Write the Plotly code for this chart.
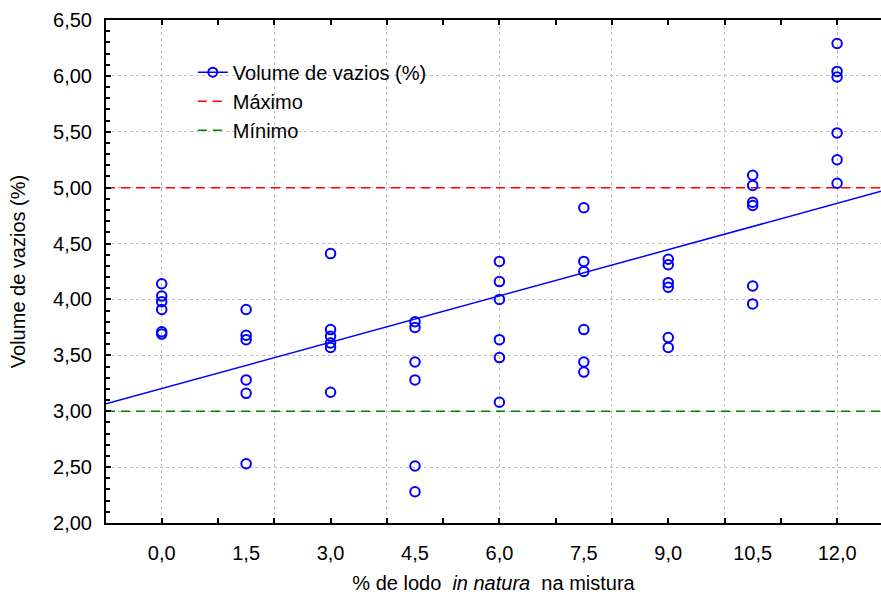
import numpy as np
import plotly.graph_objects as go

# ---- data ----
x_levels = [0.0, 1.5, 3.0, 4.5, 6.0, 7.5, 9.0, 10.5, 12.0]
x_labels = ["0,0", "1,5", "3,0", "4,5", "6,0", "7,5", "9,0", "10,5", "12,0"]
v_00 = [4.14, 4.03, 3.98, 3.91, 3.71, 3.69]
v_15 = [3.91, 3.68, 3.64, 3.28, 3.16, 2.53]
v_30 = [4.41, 3.73, 3.67, 3.61, 3.57, 3.17]
v_45 = [3.80, 3.75, 3.44, 3.28, 2.51, 2.28]
v_60 = [4.34, 4.16, 4.00, 3.64, 3.48, 3.08]
v_75 = [4.82, 4.34, 4.25, 3.73, 3.44, 3.35]
v_90 = [4.36, 4.31, 4.15, 4.11, 3.66, 3.57]
v_105 = [5.11, 5.02, 4.87, 4.84, 4.12, 3.96]
v_120 = [6.29, 6.04, 5.99, 5.49, 5.25, 5.04]
y_max_limit = 5.0
y_min_limit = 3.0
y_tick_vals = [2.0, 2.5, 3.0, 3.5, 4.0, 4.5, 5.0, 5.5, 6.0, 6.5]
y_tick_text = ["2,00", "2,50", "3,00", "3,50", "4,00", "4,50", "5,00", "5,50", "6,00", "6,50"]

groups = [v_00, v_15, v_30, v_45, v_60, v_75, v_90, v_105, v_120]
xs = np.concatenate([[xv] * len(g) for xv, g in zip(x_levels, groups)])
ys = np.concatenate(groups)

X_RANGE = [-0.99, 12.78]
Y_RANGE = [2.0, 6.5]

slope, intercept = np.polyfit(xs, ys, 1)
line_x = np.array(X_RANGE)
line_y = intercept + slope * line_x

FONT = "Liberation Sans, Arial, sans-serif"
BLUE = "#0000ff"
FS = 20

fig = go.Figure()
# legend-only entries
fig.add_trace(go.Scatter(x=[None], y=[None], mode="lines+markers", name="Volume de vazios (%)",
                         line=dict(color=BLUE, width=1.5),
                         marker=dict(symbol="circle-open", size=9, color=BLUE, line=dict(width=2))))
fig.add_trace(go.Scatter(x=line_x, y=[y_max_limit] * 2, mode="lines", name="Máximo",
                         line=dict(color="#ff0000", width=1.5, dash="9px,6px")))
fig.add_trace(go.Scatter(x=line_x, y=[y_min_limit] * 2, mode="lines", name="Mínimo",
                         line=dict(color="#008000", width=1.5, dash="9px,6px")))
fig.add_trace(go.Scatter(x=line_x, y=line_y, mode="lines", showlegend=False,
                         line=dict(color=BLUE, width=1.5)))
fig.add_trace(go.Scatter(x=xs, y=ys, mode="markers", showlegend=False,
                         marker=dict(symbol="circle-open", size=9.5, color=BLUE, line=dict(width=2))))
# dummy trace for the overlay axis (ticks every 1, grid every 2)
fig.add_trace(go.Scatter(x=[None], y=[None], xaxis="x2", showlegend=False, hoverinfo="skip"))

fig.update_layout(
    width=881, height=594,
    margin=dict(l=106, r=0, t=20, b=71),
    paper_bgcolor="white", plot_bgcolor="white",
    font=dict(family=FONT, size=FS, color="black"),
    showlegend=True,
    legend=dict(x=0.112, y=0.935, xanchor="left", yanchor="top", bgcolor="rgba(0,0,0,0)",
                font=dict(size=FS), tracegroupgap=0, itemwidth=30),
    xaxis=dict(range=X_RANGE, tickmode="array", tickvals=x_levels, ticktext=x_labels,
               ticks="", showgrid=False, zeroline=False, showline=True, linecolor="black",
               linewidth=2, mirror=True, ticklabelstandoff=11,
               title=dict(text="% de lodo\u00a0 <i>in natura</i>\u00a0 na mistura", standoff=16,
                          font=dict(size=FS))),
    xaxis2=dict(overlaying="x", anchor="y", side="bottom", range=X_RANGE,
                tickmode="linear", tick0=0, dtick=2, ticks="inside", ticklen=5, tickwidth=1.5,
                tickcolor="black", showticklabels=False, showgrid=True, gridcolor="#c0c0c0",
                griddash="dot", gridwidth=1, zeroline=False, showline=False, mirror="ticks",
                minor=dict(tickmode="linear", tick0=0, dtick=1, ticks="inside", ticklen=5,
                           tickwidth=1.5, tickcolor="black", showgrid=False)),
    yaxis=dict(range=Y_RANGE, tickmode="array", tickvals=y_tick_vals, ticktext=y_tick_text,
               ticks="inside", ticklen=5, tickwidth=1.5, tickcolor="black",
               showgrid=True, gridcolor="#c0c0c0", griddash="dot", gridwidth=1,
               zeroline=False, showline=True, linecolor="black", linewidth=2, mirror=False,
               ticklabelstandoff=8,
               minor=dict(tickmode="linear", tick0=2.0, dtick=0.1, ticks="inside", ticklen=4,
                          tickwidth=1.5, tickcolor="black", showgrid=False),
               title=dict(text="Volume de vazios (%)", standoff=22, font=dict(size=FS))),
)

fig.write_html("out.html", config={"displayModeBar": False},
               post_script="document.body.style.margin='0';document.body.style.padding='0';"
                           "document.body.style.overflow='hidden';")
